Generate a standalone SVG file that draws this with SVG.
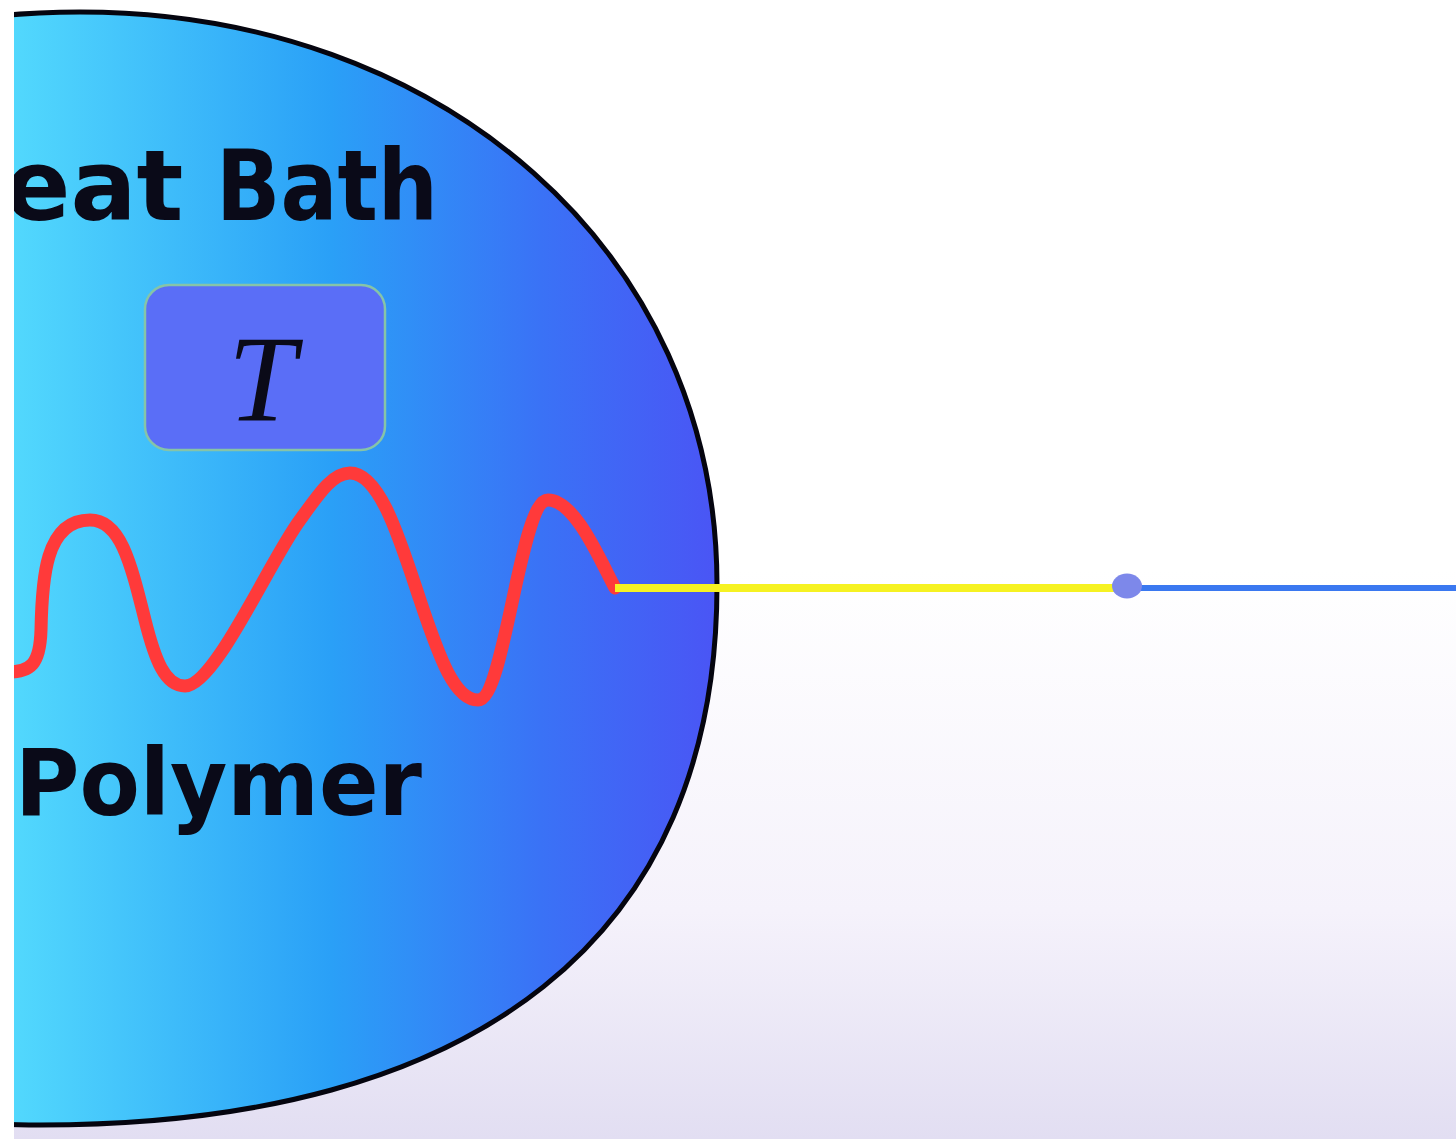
<svg xmlns="http://www.w3.org/2000/svg" width="1456" height="1139" viewBox="0 0 1456 1139">
  <defs>
    <linearGradient id="bg" x1="0" y1="0" x2="0" y2="1">
      <stop offset="0" stop-color="#ffffff"/>
      <stop offset="0.5" stop-color="#ffffff"/>
      <stop offset="0.8" stop-color="#f5f2fb"/>
      <stop offset="1" stop-color="#e2def2"/>
    </linearGradient>
    <linearGradient id="bathFill" gradientUnits="userSpaceOnUse" x1="14" y1="0" x2="717" y2="0">
      <stop offset="0" stop-color="#52d8fd"/>
      <stop offset="0.45" stop-color="#2aa0f7"/>
      <stop offset="0.75" stop-color="#3a72f6"/>
      <stop offset="1" stop-color="#4a55f5"/>
    </linearGradient>
    <style>
      .label { font-family: "DejaVu Sans", "Liberation Sans", sans-serif; font-weight: bold; fill: #0a0a18; }
      .math { font-family: "Liberation Serif", "DejaVu Serif", serif; font-style: italic; fill: #0a0a18; }
    </style>
  </defs>

  <rect x="0" y="0" width="1456" height="1139" fill="url(#bg)"/>

  <g id="heat-bath">
    <path d="M -20,18 C 20,13 50,12 80,12 C 440,12 717,250 717,585 C 717,936 480,1125 40,1125 C 10,1125 -5,1124 -20,1122 Z"
          fill="url(#bathFill)" stroke="#05050f" stroke-width="5"/>
    <text class="label" x="4" y="220" font-size="98">eat <tspan x="216" textLength="222" lengthAdjust="spacingAndGlyphs">Bath</tspan></text>
  </g>

  <g id="temperature">
    <rect x="145" y="285" width="240" height="165" rx="24" ry="24" fill="#5a6ef7" stroke="#86c4a8" stroke-width="2.5"/>
    <text class="math" x="262" y="420" font-size="122" text-anchor="middle">T</text>
  </g>

  <g id="polymer">
    <path d="M 8,672 C 30,672 40,665 41,630 C 42,580 45,520 90,520 C 120,520 130,560 145,620 C 155,660 165,686 185,686 C 215,686 270,560 300,520 C 320,492 333,473 350,473 C 380,473 400,540 420,600 C 440,660 455,700 478,700 C 505,700 520,500 548,500 C 575,500 600,560 615,588"
          fill="none" stroke="#ff3a3a" stroke-width="13" stroke-linecap="round" stroke-linejoin="round"/>
    <text class="label" x="15" y="815" font-size="92" textLength="407" lengthAdjust="spacingAndGlyphs">Polymer</text>
  </g>

  <g id="connectors">
    <line x1="615" y1="588" x2="1124" y2="588" stroke="#f6f222" stroke-width="8"/>
    <line x1="1130" y1="588" x2="1456" y2="588" stroke="#3a78f0" stroke-width="6"/>
  </g>

  <g id="joint">
    <ellipse cx="1127" cy="586" rx="15" ry="12.5" fill="#7d88ea"/>
  </g>

  <rect x="0" y="0" width="14" height="1139" fill="#ffffff"/>
</svg>
